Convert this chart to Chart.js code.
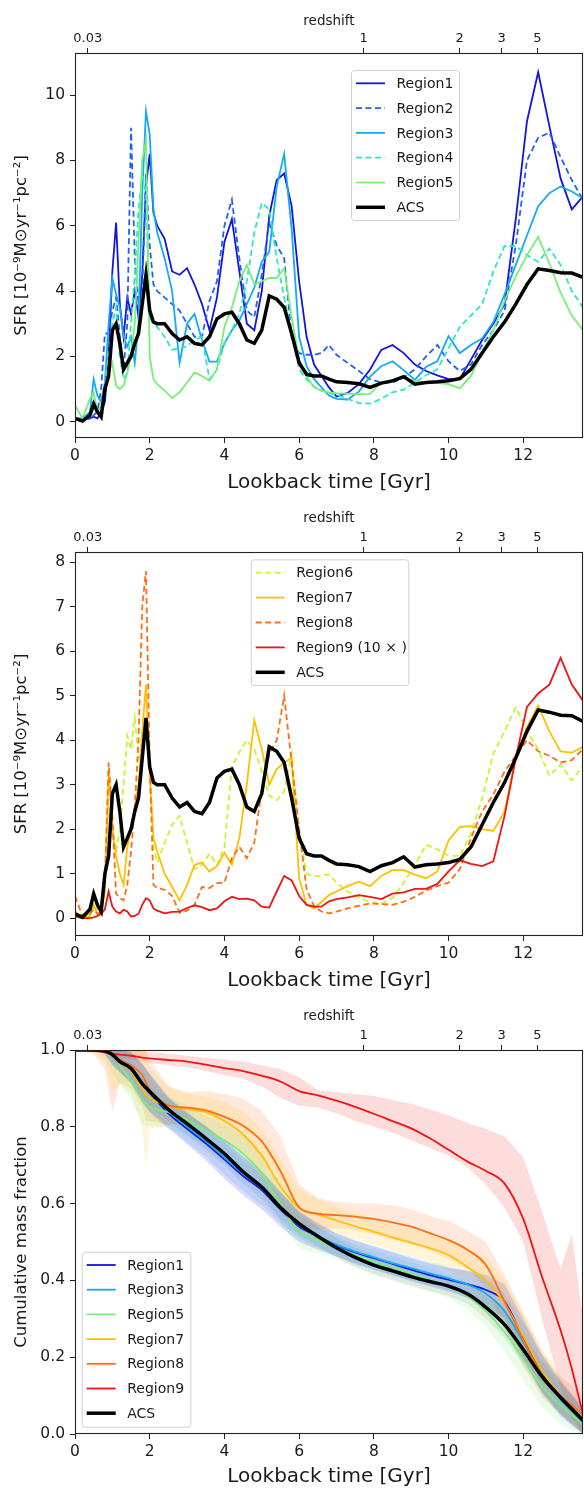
<!DOCTYPE html>
<html>
<head>
<meta charset="utf-8">
<script src="https://cdn.jsdelivr.net/npm/chart.js@4.4.0/dist/chart.umd.min.js"></script>
<style>
  html, body { margin: 0; padding: 0; background: #fff; overflow: hidden; }
  canvas { position: absolute; left: 0; }
</style>
</head>
<body>
<canvas id="sfr-a" width="584" height="500" style="top:0"></canvas>
<canvas id="sfr-b" width="584" height="500" style="top:500px"></canvas>
<canvas id="cmf" width="584" height="500" style="top:1000px"></canvas>
<script>
// ─── Data ─────────────────────────────────────────────────────

// lookback-time grid for the SFR histories [Gyr]
const tSfr = [
  0, 0.2, 0.4, 0.5, 0.6, 0.7, 0.8, 0.9,
  1.0, 1.1, 1.2, 1.3, 1.4, 1.5, 1.6, 1.7, 1.8, 1.9,
  2.0, 2.1, 2.2,
  2.4, 2.6, 2.8, 3.0, 3.2, 3.4, 3.6, 3.8, 4.0,
  4.2, 4.4, 4.6, 4.8, 5.0, 5.2, 5.4, 5.6, 5.8, 6.0,
  6.2, 6.4, 6.6, 6.8, 7.0,
  7.3, 7.6, 7.9, 8.2, 8.5, 8.8, 9.1, 9.4, 9.7, 10.0,
  10.3, 10.6, 10.9, 11.2, 11.5, 11.8, 12.1, 12.4, 12.7, 13.0, 13.3, 13.6,
];

// SFR [1e-9 Msun/yr/pc^2]
const sfrACS = [
  0.1, 0.02, 0.2, 0.55, 0.3, 0.15, 1.0, 1.4,
  2.8, 3.0, 2.4, 1.6, 1.8, 2.0, 2.4, 2.7, 3.6, 4.5,
  3.4, 3.05, 3.0,
  3.0, 2.7, 2.5, 2.6, 2.4, 2.35, 2.6, 3.15, 3.3,
  3.35, 3.0, 2.5, 2.4, 2.8, 3.85, 3.75, 3.5, 2.7, 1.8,
  1.45, 1.4, 1.4, 1.3, 1.22,
  1.2, 1.16, 1.05, 1.18, 1.25, 1.38, 1.15, 1.2, 1.22, 1.25,
  1.32, 1.6, 2.1, 2.6, 3.05, 3.6, 4.2, 4.68, 4.63, 4.56, 4.55, 4.42,
];
const sfrR1 = [
  0.1, 0.05, 0.1, 0.15, 0.1, 0.3, 0.6, 2.0,
  4.6, 6.1, 3.6, 2.6, 3.8, 3.3, 4.0, 3.2, 4.5, 7.2,
  8.2, 6.4, 6.0,
  5.6, 4.6, 4.5, 4.7, 4.2, 3.6, 2.8, 3.8, 5.5,
  6.2, 4.6, 3.0, 2.8, 4.0, 6.3, 7.4, 7.6, 6.6, 4.3,
  2.6, 1.75, 1.4, 1.05, 0.77,
  0.88, 1.15, 1.6, 2.2, 2.35, 2.1, 1.75, 1.55, 1.42, 1.3,
  1.3, 1.9, 2.5, 3.0, 3.6, 6.2, 9.2, 10.7, 9.05, 7.45, 6.5, 6.9,
];
const sfrR2 = [
  0.1, 0.05, 0.1, 0.2, 0.3, 1.0, 2.7, 2.7,
  3.4, 3.8, 2.6, 1.6, 3.0, 9.0, 5.0, 3.6, 4.0, 7.6,
  5.4, 4.2, 4.0,
  3.8, 3.6, 3.4, 3.0, 2.6, 2.6, 3.7, 4.3, 6.0,
  6.8, 5.0, 3.4, 3.2, 4.5, 6.1, 5.4, 5.0, 2.6, 2.1,
  2.05, 2.05, 2.1, 2.35, 2.05,
  1.8, 1.55, 1.3, 1.2, 1.2, 1.35, 1.6, 2.0, 2.35, 1.85,
  1.55, 1.75, 2.35, 2.8, 3.4, 5.4, 8.0, 8.7, 8.85, 8.1, 7.4, 6.8,
];
const sfrR3 = [
  0.1, 0.1, 0.3, 1.3, 0.8, 0.6, 1.2, 3.0,
  4.4, 3.9, 3.5, 2.6, 2.3, 2.6, 1.8, 3.0, 7.0, 9.5,
  8.8, 6.5, 5.8,
  5.0, 4.0, 1.8, 3.0, 3.3, 2.5, 1.84, 1.84, 2.4,
  2.8, 3.1, 3.6, 4.1, 4.9, 5.2, 7.2, 8.2, 5.9, 2.6,
  1.7, 1.3, 1.05, 0.8, 0.7,
  0.68, 0.92, 1.38, 1.7, 1.85, 1.58, 1.28, 1.68, 1.85, 2.62,
  2.1, 2.35, 2.55, 3.05, 3.9, 4.8, 5.7, 6.6, 7.0, 7.2, 7.05, 6.84,
];
const sfrR4 = [
  0.1, 0.05, 0.2, 0.4, 0.3, 0.5, 1.2, 2.0,
  3.0, 3.5, 2.0, 1.3, 1.5, 3.0, 4.5, 6.5, 7.6, 7.0,
  3.2, 3.0, 2.9,
  2.6, 2.2, 2.25, 2.3, 2.5, 2.6, 1.3, 1.6, 2.4,
  2.8, 3.3, 4.3, 5.8, 6.7, 6.5, 5.0, 3.8, 2.7, 1.6,
  1.3, 1.07, 0.95, 0.88, 0.82,
  0.7, 0.57, 0.55, 0.7, 0.9, 0.98, 1.2, 1.42, 1.6, 2.25,
  2.9, 3.25, 3.6, 4.6, 5.38, 5.38, 5.1, 4.9, 5.3, 4.8, 4.0, 3.5,
];
const sfrR5 = [
  0.5, 0.1, 0.7, 0.9, 0.3, 0.5, 1.0, 1.5,
  1.8, 1.1, 1.0, 1.1, 1.5, 2.0, 3.0, 5.5, 8.0, 8.6,
  2.0, 1.3, 1.15,
  0.95, 0.72, 0.9, 1.2, 1.5, 1.4, 1.25, 1.6, 2.9,
  3.5, 4.3, 4.8, 4.2, 4.3, 4.4, 4.4, 4.7, 3.2, 1.9,
  1.4, 1.05, 0.95, 0.9, 0.87,
  0.86, 0.84, 0.85, 1.2, 1.28, 1.33, 1.25, 1.18, 1.18, 1.15,
  1.02, 1.4, 2.1, 2.8, 3.7, 4.45, 5.1, 5.66, 4.85, 3.95, 3.25, 2.8,
];
const sfrR6 = [
  0.05, 0.02, 0.1, 0.3, 0.2, 0.3, 1.0, 2.5,
  2.0, 1.5, 2.0, 3.0, 4.1, 3.8, 4.5, 3.6, 3.8, 4.3,
  3.5, 1.6, 1.25,
  1.7, 2.1, 2.3, 1.7, 1.1, 1.2, 1.45, 1.2, 1.6,
  3.4, 3.73, 4.0, 3.8, 3.3, 2.75, 2.65, 2.85, 3.7, 2.0,
  1.0, 0.94, 0.96, 0.98, 0.8,
  0.6, 0.47, 0.36, 0.32, 0.45, 0.8, 1.2, 1.65, 1.55, 1.4,
  1.4, 1.9, 2.7, 3.7, 4.2, 4.74, 4.2, 3.8, 3.2, 3.45, 3.1, 3.42,
];
const sfrR7 = [
  0.15, 0.02, 0.05, 0.3, 0.1, 0.1, 0.6, 3.3,
  2.0, 1.4, 1.0, 0.75, 1.6, 2.0, 2.5, 3.0, 4.2, 5.25,
  3.2, 1.8, 1.5,
  1.0, 0.7, 0.4, 0.75, 1.2, 1.25, 1.05, 1.17, 1.47,
  1.2, 1.8, 3.0, 4.45, 3.8, 3.0, 3.35, 3.5, 3.6, 0.9,
  0.3, 0.22, 0.37, 0.52, 0.6,
  0.72, 0.82, 0.72, 0.95, 1.08, 1.08, 0.98, 0.9, 1.05, 1.75,
  2.05, 2.07, 2.0, 1.96, 2.4, 3.6, 4.3, 4.78, 4.2, 3.75, 3.72, 3.85,
];
const sfrR8 = [
  0.5, 0.05, 0.1, 0.2, 0.1, 0.15, 0.8, 3.5,
  2.3, 0.55, 0.45, 0.4, 0.75, 1.5, 2.5, 4.0, 7.0, 7.8,
  3.5, 0.75, 0.68,
  0.64, 0.5, 0.12, 0.17, 0.3, 0.7, 0.68, 0.79, 0.8,
  1.35, 1.6, 1.35, 1.7, 2.9, 3.7, 4.0, 5.0, 3.5, 2.0,
  0.65, 0.27, 0.15, 0.11, 0.15,
  0.22, 0.28, 0.33, 0.32, 0.3, 0.37, 0.48, 0.62, 0.72, 0.8,
  1.1, 1.8, 2.4, 2.78, 3.3, 3.65, 4.0, 3.75, 3.65, 3.5, 3.55, 3.8,
];
// region 9 is shown multiplied by 10
const sfrR9x10 = [
  0.04, 0.0, 0.0, 0.02, 0.05, 0.1, 0.2, 0.6,
  0.26, 0.15, 0.11, 0.19, 0.15, 0.04, 0.05, 0.1, 0.3, 0.45,
  0.4, 0.22, 0.17,
  0.11, 0.14, 0.15, 0.23, 0.29, 0.25, 0.18, 0.22, 0.38,
  0.48, 0.43, 0.44, 0.4, 0.26, 0.24, 0.6, 0.95, 0.85, 0.5,
  0.3, 0.26, 0.26, 0.38, 0.43,
  0.47, 0.52, 0.48, 0.43, 0.55, 0.58, 0.66, 0.66, 0.77, 1.05,
  1.3, 1.22, 1.17, 1.28, 2.3, 3.6, 4.75, 5.05, 5.25, 5.85, 5.25, 4.89,
];

// lookback-time grid for the cumulative mass fractions [Gyr]
const tCum = [
  0, 0.5, 0.8, 1.0, 1.2, 1.5, 1.8, 1.9,
  2.0, 2.5, 3.0, 3.5, 4.0, 4.5, 5.0, 5.5, 6.0,
  6.5, 7.0, 7.5, 8.0, 8.5, 9.0, 9.5, 10.0,
  10.5, 11.0, 11.5, 12.0, 12.5, 13.0, 13.3, 13.6,
];
const cmfACS = [
  1, 1, 0.998, 0.988, 0.97, 0.952, 0.912, 0.902,
  0.892, 0.845, 0.808, 0.77, 0.73, 0.683, 0.643, 0.59, 0.548,
  0.515, 0.485, 0.46, 0.44, 0.425, 0.41, 0.397, 0.385,
  0.365, 0.33, 0.285, 0.22, 0.15, 0.095, 0.065, 0.035,
];
const cmfR1 = [
  1, 1, 1, 0.99, 0.972, 0.955, 0.915, 0.9,
  0.888, 0.835, 0.795, 0.757, 0.715, 0.672, 0.635, 0.585, 0.54,
  0.515, 0.492, 0.473, 0.458, 0.443, 0.428, 0.414, 0.402,
  0.39, 0.375, 0.345, 0.25, 0.158, 0.095, 0.065, 0.035,
];
const cmfR3 = [
  1, 1, 1, 0.99, 0.975, 0.955, 0.915, 0.902,
  0.89, 0.84, 0.8, 0.762, 0.72, 0.678, 0.64, 0.59, 0.545,
  0.515, 0.493, 0.475, 0.46, 0.445, 0.432, 0.418, 0.405,
  0.39, 0.365, 0.32, 0.24, 0.155, 0.09, 0.06, 0.03,
];
const cmfR5 = [
  1, 1, 0.997, 0.99, 0.96, 0.92, 0.87, 0.86,
  0.852, 0.838, 0.818, 0.79, 0.765, 0.73, 0.68, 0.598, 0.528,
  0.505, 0.485, 0.465, 0.448, 0.433, 0.418, 0.402, 0.385,
  0.36, 0.32, 0.265, 0.195, 0.125, 0.075, 0.05, 0.025,
];
const cmfR7 = [
  1, 1, 0.998, 0.99, 0.972, 0.945, 0.9, 0.885,
  0.875, 0.855, 0.846, 0.838, 0.815, 0.78, 0.725, 0.645, 0.588,
  0.572, 0.556, 0.541, 0.527, 0.512, 0.498, 0.484, 0.466,
  0.435, 0.4, 0.34, 0.255, 0.165, 0.1, 0.065, 0.035,
];
const cmfR8 = [
  1, 1, 0.998, 0.99, 0.975, 0.96, 0.935, 0.915,
  0.895, 0.856, 0.85, 0.843, 0.826, 0.803, 0.762, 0.685, 0.59,
  0.574, 0.57, 0.566, 0.56, 0.551, 0.54, 0.523, 0.505,
  0.48, 0.44, 0.345, 0.245, 0.155, 0.1, 0.075, 0.05,
];
const cmfR9 = [
  1, 0.998, 0.994, 0.99, 0.988, 0.985, 0.98, 0.979,
  0.978, 0.974, 0.97, 0.962, 0.953, 0.945, 0.933, 0.918, 0.893,
  0.882, 0.868, 0.852, 0.834, 0.815, 0.796, 0.77, 0.74,
  0.71, 0.685, 0.652, 0.56, 0.41, 0.27, 0.17, 0.05,
];

// half-width of the uncertainty band around each curve
const spreadACS = [
  0, 0, 0.005, 0.02, 0.03, 0.04, 0.05, 0.05,
  0.04, 0.03, 0.03, 0.03, 0.03, 0.03, 0.03, 0.03, 0.03,
  0.025, 0.025, 0.025, 0.025, 0.025, 0.025, 0.025, 0.025,
  0.025, 0.03, 0.035, 0.04, 0.04, 0.04, 0.035, 0.03,
];
const spreadR1 = [
  0, 0, 0.01, 0.03, 0.03, 0.04, 0.05, 0.05,
  0.05, 0.04, 0.04, 0.045, 0.05, 0.05, 0.05, 0.045, 0.04,
  0.035, 0.03, 0.03, 0.03, 0.03, 0.03, 0.03, 0.03,
  0.035, 0.04, 0.045, 0.05, 0.05, 0.045, 0.04, 0.035,
];
const spreadR3 = [
  0, 0, 0.01, 0.03, 0.03, 0.04, 0.05, 0.05,
  0.05, 0.04, 0.04, 0.04, 0.045, 0.045, 0.045, 0.04, 0.035,
  0.03, 0.03, 0.03, 0.03, 0.03, 0.03, 0.03, 0.03,
  0.035, 0.04, 0.045, 0.05, 0.05, 0.045, 0.04, 0.035,
];
const spreadR5 = [
  0, 0, 0.02, 0.05, 0.05, 0.05, 0.06, 0.06,
  0.05, 0.04, 0.04, 0.04, 0.04, 0.045, 0.05, 0.05, 0.045,
  0.035, 0.03, 0.03, 0.03, 0.03, 0.03, 0.03, 0.03,
  0.035, 0.04, 0.05, 0.055, 0.055, 0.05, 0.04, 0.035,
];
const spreadR7 = [
  0, 0.01, 0.03, 0.1, 0.06, 0.06, 0.1, 0.2,
  0.08, 0.05, 0.04, 0.04, 0.05, 0.06, 0.07, 0.07, 0.05,
  0.04, 0.035, 0.035, 0.035, 0.035, 0.035, 0.035, 0.04,
  0.05, 0.06, 0.06, 0.06, 0.06, 0.05, 0.04, 0.03,
];
const spreadR8 = [
  0, 0.01, 0.05, 0.15, 0.06, 0.06, 0.08, 0.1,
  0.08, 0.05, 0.04, 0.05, 0.06, 0.07, 0.08, 0.09, 0.06,
  0.04, 0.035, 0.035, 0.04, 0.045, 0.045, 0.045, 0.05,
  0.05, 0.06, 0.07, 0.07, 0.06, 0.05, 0.05, 0.05,
];
// region 9 band is lopsided, so both edges are given
const lowR9 = [
  1, 0.995, 0.99, 0.985, 0.98, 0.975, 0.97, 0.968,
  0.966, 0.96, 0.955, 0.945, 0.935, 0.925, 0.905, 0.875, 0.855,
  0.85, 0.835, 0.815, 0.8, 0.785, 0.765, 0.745, 0.725,
  0.695, 0.65, 0.59, 0.5, 0.3, 0.12, 0.04, 0.0,
];
const highR9 = [
  1, 1, 1, 1, 1, 1, 0.995, 0.995,
  0.995, 0.99, 0.985, 0.98, 0.975, 0.97, 0.96, 0.95, 0.93,
  0.895, 0.89, 0.885, 0.88, 0.87, 0.86, 0.845, 0.83,
  0.81, 0.795, 0.775, 0.72, 0.58, 0.43, 0.52, 0.3,
];

// axis ticks
const timeTicks = [0, 2, 4, 6, 8, 10, 12];
const redshiftLabels = ['0.03', '1', '2', '3', '5'];
const redshiftTimes = [0.34, 7.73, 10.3, 11.42, 12.38];
const sfrTicksA = [0, 2, 4, 6, 8, 10];
const sfrTicksB = [0, 1, 2, 3, 4, 5, 6, 7, 8];
const cmfTicks = [0, 0.2, 0.4, 0.6, 0.8, 1.0];

// ─── Styling ──────────────────────────────────────────────────

const FONT = "'DejaVu Sans', sans-serif";
const INK = '#1a1a1a';
const C = {
  r1: '#1414e0', r2: '#2160f5', r3: '#14aaf5', r4: '#2de6c8', r5: '#78ee78',
  r6: '#c8f52d', r7: '#ffc000', r8: '#ff6e14', r9: '#f01414', acs: '#000000',
};
const DASH = [6, 3.5];

function pts(t, ys) {
  return t.map((x, i) => ({ x, y: ys[i] }));
}

function lineSet(label, t, ys, color, order, extra) {
  return Object.assign({
    label, data: pts(t, ys),
    borderColor: color, backgroundColor: color,
    borderWidth: 1.8, pointRadius: 0, tension: 0, fill: false,
    order, inLegend: true,
  }, extra || {});
}

function alpha(hex, a) {
  const n = parseInt(hex.slice(1), 16);
  return `rgba(${(n >> 16) & 255},${(n >> 8) & 255},${n & 255},${a})`;
}

// lower edge (invisible) followed by upper edge filled down to it
function bandSets(t, lo, hi, color) {
  return [
    { data: pts(t, lo), borderWidth: 0, pointRadius: 0, fill: false, order: 50 },
    { data: pts(t, hi), borderWidth: 0, pointRadius: 0, order: 50,
      fill: '-1', backgroundColor: alpha(color, 0.15) },
  ];
}

function bandAround(t, ys, w, color) {
  const lo = ys.map((v, i) => Math.max(0, v - w[i]));
  const hi = ys.map((v, i) => Math.min(1, v + w[i]));
  return bandSets(t, lo, hi, color);
}

// matplotlib-like closed frame around the plotting area
const framePlugin = {
  id: 'frame',
  afterDatasetsDraw(chart) {
    const { ctx, chartArea: a } = chart;
    ctx.save();
    ctx.strokeStyle = '#222';
    ctx.lineWidth = 1.1;
    ctx.strokeRect(a.left + 0.5, a.top + 0.5, a.right - a.left - 1, a.bottom - a.top - 1);
    ctx.restore();
  },
};

// legend box placed inside the axes
const boxLegend = {
  id: 'boxLegend',
  afterDraw(chart, args, o) {
    const { ctx } = chart;
    const items = chart.data.datasets.filter(d => d.inLegend);
    ctx.save();
    ctx.beginPath();
    ctx.roundRect(o.x + 0.5, o.y + 0.5, o.w, o.h, 3);
    ctx.fillStyle = 'rgba(255,255,255,0.8)';
    ctx.fill();
    ctx.strokeStyle = '#d0d0d0';
    ctx.lineWidth = 1;
    ctx.stroke();
    ctx.font = `14px ${FONT}`;
    ctx.textBaseline = 'middle';
    items.forEach((d, i) => {
      const y = o.rowY + i * o.rowStep;
      ctx.beginPath();
      ctx.setLineDash(d.borderDash || []);
      ctx.strokeStyle = d.borderColor;
      ctx.lineWidth = d.borderWidth;
      ctx.moveTo(o.x + 5, y);
      ctx.lineTo(o.x + 34, y);
      ctx.stroke();
      ctx.setLineDash([]);
      ctx.fillStyle = INK;
      ctx.fillText(d.label, o.x + 45.5, y + 1);
    });
    ctx.restore();
  },
};

function scales(p) {
  const grid = {
    display: true, drawOnChartArea: false, drawTicks: true,
    tickLength: 5, color: '#222', tickWidth: 1,
  };
  return {
    x: {
      type: 'linear', position: 'bottom', min: 0, max: 13.6,
      afterBuildTicks: s => { s.ticks = timeTicks.map(v => ({ value: v })); },
      afterFit: s => { s.height = p.bottomH; },
      ticks: { font: { family: FONT, size: 15.5 }, color: INK, padding: 4, autoSkip: false, maxRotation: 0 },
      grid, border: { display: false },
      title: {
        display: true, text: 'Lookback time [Gyr]', color: INK,
        font: { family: FONT, size: 20 }, padding: { top: 0, bottom: p.xTitlePad },
      },
    },
    xTop: {
      type: 'linear', axis: 'x', position: 'top', min: 0, max: 13.6,
      afterBuildTicks: s => { s.ticks = redshiftTimes.map(v => ({ value: v })); },
      afterFit: s => { s.height = p.topH; },
      ticks: {
        font: { family: FONT, size: 13 }, color: INK, padding: 2, autoSkip: false, maxRotation: 0,
        callback: (v, i) => redshiftLabels[i],
      },
      grid, border: { display: false },
      title: {
        display: true, text: 'redshift', color: INK,
        font: { family: FONT, size: 13.5 }, padding: { top: p.zTitlePad, bottom: 0 },
      },
    },
    y: {
      type: 'linear', min: p.yMin, max: p.yMax,
      afterBuildTicks: s => { s.ticks = p.yTicks.map(v => ({ value: v })); },
      afterFit: s => { s.width = 75; },
      ticks: {
        font: { family: FONT, size: 15.5 }, color: INK, padding: 5, autoSkip: false,
        callback: p.yFmt || (v => String(v)),
      },
      grid, border: { display: false },
      title: {
        display: true, text: p.yTitle, color: INK,
        font: { family: FONT, size: 16.5 }, padding: { top: 12, bottom: 0 },
      },
    },
  };
}

function makeChart(id, datasets, p, legend) {
  return new Chart(document.getElementById(id), {
    type: 'line',
    data: { datasets },
    options: {
      responsive: false,
      animation: false,
      layout: { padding: { left: 0, right: 1, top: 0, bottom: 0 } },
      plugins: { legend: { display: false }, tooltip: { enabled: false }, boxLegend: legend },
      scales: scales(p),
    },
    plugins: [framePlugin, boxLegend],
  });
}

const SFR_TITLE = 'SFR [10\u207B\u2079M\u2299yr\u207B\u00B9pc\u207B\u00B2]';
const ACS_STYLE = { borderWidth: 3.5 };

// ─── Panel 1: regions 1-5 ─────────────────────────────────────

makeChart('sfr-a', [
  lineSet('Region1', tSfr, sfrR1, C.r1, 5),
  lineSet('Region2', tSfr, sfrR2, C.r2, 4, { borderDash: DASH }),
  lineSet('Region3', tSfr, sfrR3, C.r3, 3),
  lineSet('Region4', tSfr, sfrR4, C.r4, 2, { borderDash: DASH }),
  lineSet('Region5', tSfr, sfrR5, C.r5, 1),
  lineSet('ACS', tSfr, sfrACS, C.acs, 0, ACS_STYLE),
], {
  yMin: -0.5, yMax: 11.29, yTicks: sfrTicksA, yTitle: SFR_TITLE,
  topH: 53, bottomH: 62, xTitlePad: 5, zTitlePad: 13,
}, { x: 351, y: 70, w: 108, h: 150, rowY: 83.3, rowStep: 24.8 });

// ─── Panel 2: regions 6-9 ─────────────────────────────────────

makeChart('sfr-b', [
  lineSet('Region6', tSfr, sfrR6, C.r6, 4, { borderDash: DASH }),
  lineSet('Region7', tSfr, sfrR7, C.r7, 3),
  lineSet('Region8', tSfr, sfrR8, C.r8, 2, { borderDash: DASH }),
  lineSet('Region9 (10 \u00D7 )', tSfr, sfrR9x10, C.r9, 1),
  lineSet('ACS', tSfr, sfrACS, C.acs, 0, ACS_STYLE),
], {
  yMin: -0.4, yMax: 8.23, yTicks: sfrTicksB, yTitle: SFR_TITLE,
  topH: 52, bottomH: 64, xTitlePad: 7, zTitlePad: 10,
}, { x: 250.7, y: 59.3, w: 157.6, h: 125.7, rowY: 72.7, rowStep: 24.9 });

// ─── Panel 3: cumulative mass fraction ────────────────────────

makeChart('cmf', [
  ...bandAround(tCum, cmfR1, spreadR1, C.r1),
  lineSet('Region1', tCum, cmfR1, C.r1, 16, { cubicInterpolationMode: 'monotone' }),
  ...bandAround(tCum, cmfR3, spreadR3, C.r3),
  lineSet('Region3', tCum, cmfR3, C.r3, 15, { cubicInterpolationMode: 'monotone' }),
  ...bandAround(tCum, cmfR5, spreadR5, C.r5),
  lineSet('Region5', tCum, cmfR5, C.r5, 14, { cubicInterpolationMode: 'monotone' }),
  ...bandAround(tCum, cmfR7, spreadR7, C.r7),
  lineSet('Region7', tCum, cmfR7, C.r7, 13, { cubicInterpolationMode: 'monotone' }),
  ...bandAround(tCum, cmfR8, spreadR8, C.r8),
  lineSet('Region8', tCum, cmfR8, C.r8, 12, { cubicInterpolationMode: 'monotone' }),
  ...bandSets(tCum, lowR9, highR9, C.r9),
  lineSet('Region9', tCum, cmfR9, C.r9, 11, { cubicInterpolationMode: 'monotone' }),
  ...bandAround(tCum, cmfACS, spreadACS, '#808080'),
  lineSet('ACS', tCum, cmfACS, C.acs, 0, Object.assign({ cubicInterpolationMode: 'monotone' }, ACS_STYLE)),
], {
  yMin: 0, yMax: 1, yTicks: cmfTicks, yTitle: 'Cumulative mass fraction',
  yFmt: v => v.toFixed(1),
  topH: 50, bottomH: 66, xTitlePad: 11, zTitlePad: 8,
}, { x: 81.7, y: 251.7, w: 108.6, h: 175, rowY: 265, rowStep: 24.7 });
</script>
</body>
</html>
